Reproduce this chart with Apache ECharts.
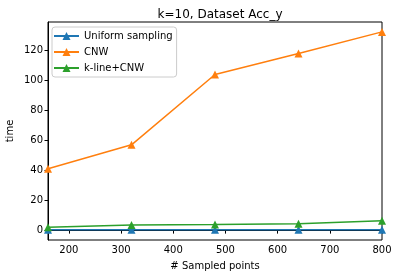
<!DOCTYPE html>
<html><head><meta charset="utf-8">
<script src="https://cdn.jsdelivr.net/npm/echarts@6/dist/echarts.min.js"></script>
<style>html,body{margin:0;padding:0;background:#fff}#c{width:398px;height:278px}</style>
</head><body><div id="c"></div>
<script>
var xValues = [160, 320, 480, 640, 800];
var uniform = [0.2, 0.2, 0.2, 0.2, 0.2];
var cnw = [41, 57, 104, 118, 132.5];
var klineCnw = [2.0, 3.4, 3.7, 4.3, 6.2];
var xTicks = [200, 300, 400, 500, 600, 700, 800];
var yTicks = [0, 20, 40, 60, 80, 100, 120];
var seriesNames = ['Uniform sampling', 'CNW', 'k-line+CNW'];
var colors = ['#1f77b4', '#ff7f0e', '#2ca02c'];

function pairs(ys){ return xValues.map(function(x,i){ return [x, ys[i]]; }); }
var font = 'DejaVu Sans';
var chart = echarts.init(document.getElementById('c'), null, {renderer:'canvas'});
var data = [uniform, cnw, klineCnw];
chart.setOption({
  animation: false,
  backgroundColor: '#fff',
  textStyle: {fontFamily: font},
  title: {text: 'k=10, Dataset Acc_y', left: 215, top: 4, textAlign: 'center',
    textStyle: {fontFamily: font, fontSize: 12, fontWeight: 'normal', color: '#000'}},
  grid: {left: 48, right: 16, top: 22, bottom: 38, show: true, borderColor: '#000', borderWidth: 1,
    backgroundColor: 'transparent', containLabel: false, outerBoundsMode: 'none'},
  legend: {
    orient: 'vertical', left: 52, top: 27,
    padding: [4, 4, 4, 1], itemGap: 6, itemWidth: 25, itemHeight: 10,
    borderColor: '#cccccc', borderWidth: 1, borderRadius: 3, backgroundColor: 'rgba(255,255,255,0.8)',
    textStyle: {fontFamily: font, fontSize: 10, color: '#000'},
    data: seriesNames
  },
  xAxis: {
    type: 'value', min: 160, max: 800,
    name: '# Sampled points', nameLocation: 'middle', nameGap: 21, nameMoveOverlap: false,
    nameTextStyle: {fontFamily: font, fontSize: 10, color: '#000'},
    axisLine: {show: true, lineStyle: {color: '#000', width: 1}},
    axisTick: {show: true, inside: false, length: 3.5, lineStyle: {color: '#000'}, customValues: xTicks},
    axisLabel: {fontFamily: font, fontSize: 10, color: '#000', margin: 5, customValues: xTicks},
    splitLine: {show: false}
  },
  yAxis: {
    type: 'value', min: -6.6, max: 139.1,
    name: 'time', nameLocation: 'middle', nameGap: 33, nameRotate: 90, nameMoveOverlap: false,
    nameTextStyle: {fontFamily: font, fontSize: 10, color: '#000'},
    axisLine: {show: true, lineStyle: {color: '#000', width: 1}},
    axisTick: {show: true, inside: false, length: 3.5, lineStyle: {color: '#000'}, customValues: yTicks},
    axisLabel: {fontFamily: font, fontSize: 10, color: '#000', margin: 5, customValues: yTicks},
    splitLine: {show: false}
  },
  series: data.map(function(d, i){
    return {
      name: seriesNames[i], type: 'line', data: pairs(d),
      symbol: 'triangle', symbolSize: 8, showAllSymbol: true,
      clip: true,
      itemStyle: {color: colors[i]},
      lineStyle: {color: colors[i], width: 1.5},
      z: 2 + i
    };
  })
});
</script></body></html>
